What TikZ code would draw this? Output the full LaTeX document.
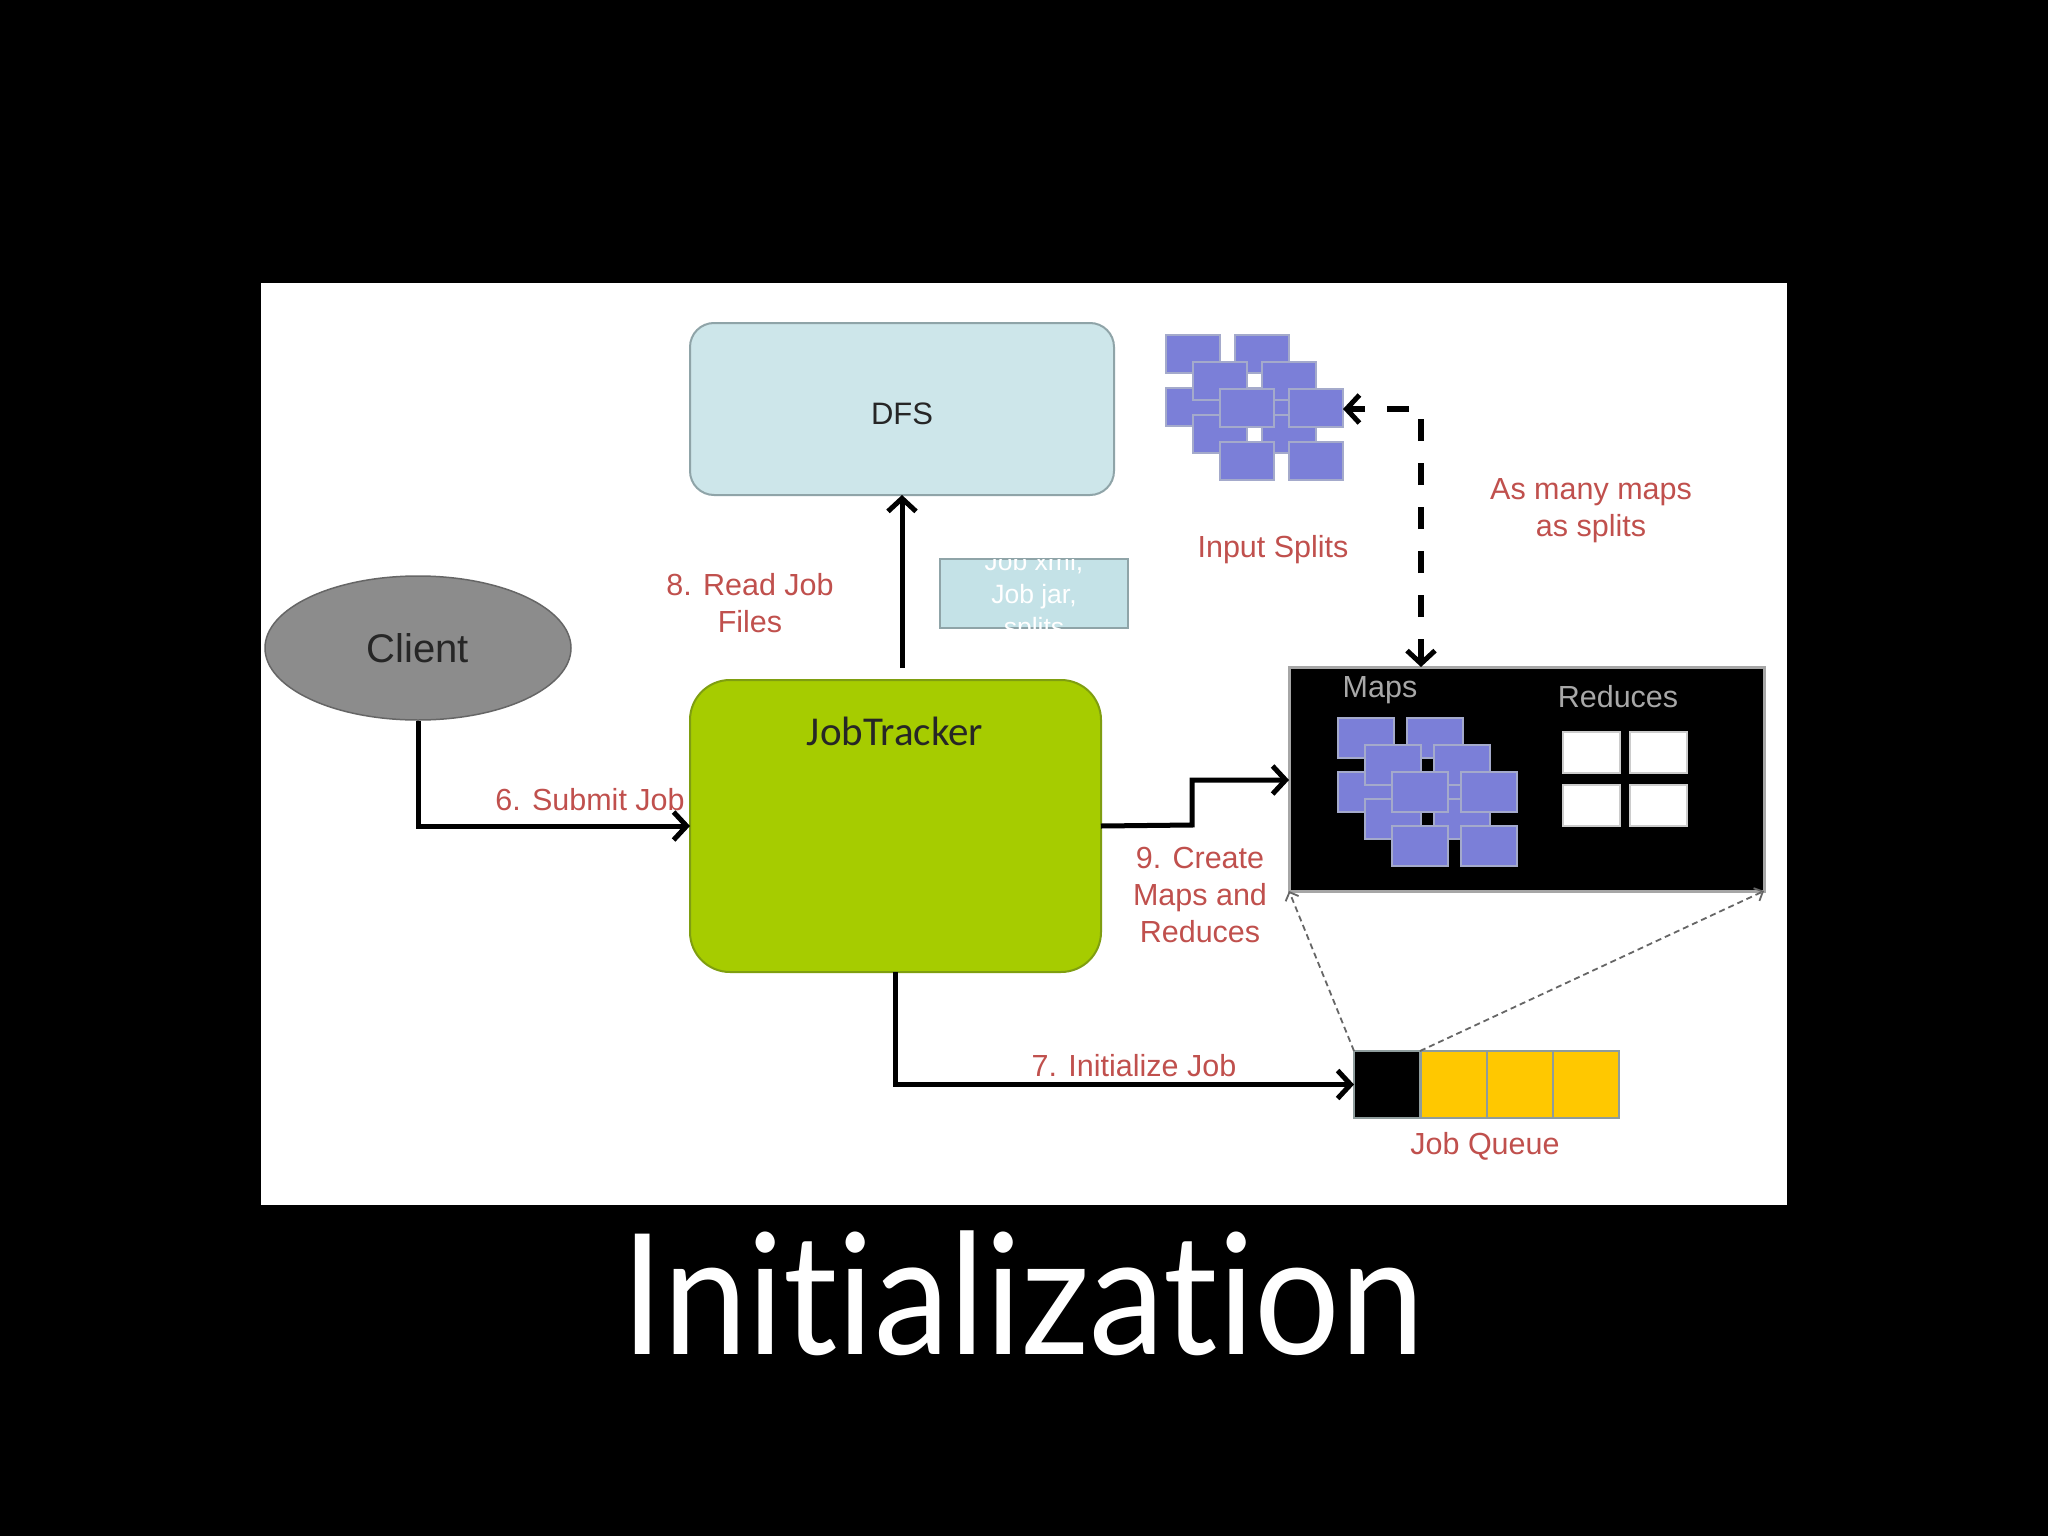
\documentclass[tikz,border=0pt]{standalone}
\usepackage{fontspec}
\setmainfont{Liberation Sans}
\newfontfamily\jtfont{Carlito}
\newfontfamily\titlefont[Ligatures={NoCommon,NoRequired,NoContextual}]{Lato}
\usetikzlibrary{arrows.meta,shapes.geometric,calc}
\definecolor{lbl}{HTML}{C0504D}
\definecolor{dfsfill}{HTML}{CDE6EA}
\definecolor{jobfill}{HTML}{C4E2E7}
\definecolor{dfsline}{HTML}{8FA4A8}
\definecolor{jtfill}{HTML}{A6CC00}
\definecolor{jtline}{HTML}{7F9E10}
\definecolor{splitfill}{HTML}{7B7FD8}
\definecolor{splitline}{HTML}{A4AACB}
\definecolor{qyellow}{HTML}{FFC800}
\definecolor{qline}{HTML}{8E9C9C}
\definecolor{clientfill}{HTML}{8C8C8C}
\definecolor{mapslbl}{HTML}{A8A8A8}
\tikzset{
  lab/.style={text=lbl, align=center, font=\fontsize{30.5}{37}\selectfont},
  boxshape/.style={rectangle, inner sep=0pt, outer sep=0pt},
  flow/.style={line width=5pt, -{Straight Barb[length=13pt,width=28pt,line width=5pt]}},
  dotarrow/.style={line width=1.8pt, draw=black!60, dash pattern=on 6pt off 4pt, -{Straight Barb[length=7pt,width=14pt,line width=1.8pt]}},
  splitbox/.style={boxshape, fill=splitfill, draw=splitline, line width=2pt, minimum width=54pt, minimum height=38pt},
  mapbox/.style={boxshape, fill=splitfill, draw=splitline, line width=2pt, minimum width=56pt, minimum height=40pt},
  redbox/.style={boxshape, fill=white, draw=black!20, line width=2pt, minimum width=57pt, minimum height=41pt},
  qcell/.style={boxshape, fill=qyellow, draw=qline, line width=2pt, minimum width=66pt, minimum height=67pt},
}
\begin{document}
\begin{tikzpicture}[x=1pt,y=-1pt]
\useasboundingbox (0,0) rectangle (2048,1536);
\fill[black] (0,0) rectangle (2048,1536);
\fill[white] (261,283) rectangle (1787,1205);

% DFS
\node[boxshape, fill=dfsfill, draw=dfsline, line width=2pt, rounded corners=24pt,
      minimum width=424pt, minimum height=172pt] (dfs) at (902,409) {};
\node[font=\fontsize{31}{31}\selectfont, text=black!85] (dfslbl) at (902,414) {DFS};

% Job files box
\node[boxshape, draw=dfsline, line width=2pt, fill=jobfill,
      minimum width=188pt, minimum height=69pt] (jobfiles) at (1034,593.5) {};
\begin{scope}
\clip (jobfiles.south west) rectangle (jobfiles.north east);
\node[text=white, align=center, font=\fontsize{26.5}{33}\selectfont] (jobfilestxt) at (1034,597) {Job xml,\\Job jar,\\splits};
\end{scope}

% Client
\node[ellipse, fill=clientfill, draw=black!60, line width=1.5pt, minimum width=306pt, minimum height=144pt,
      inner sep=0pt, font=\fontsize{40}{40}\selectfont, text=black!85] (client) at (418,648) {Client};

% JobTracker
\node[boxshape, fill=jtfill, draw=jtline, line width=2pt, rounded corners=40pt,
      minimum width=411pt, minimum height=292pt] (jt) at (895.5,826) {};
\node[font=\jtfont\fontsize{41}{41}\selectfont, text=black!85] (jtlbl) at (895,731) {JobTracker};

% Maps / Reduces container
\node[boxshape, fill=black, draw=black!35, line width=3pt, minimum width=475pt, minimum height=224pt] (maps) at (1526.5,779) {};
\node[text=mapslbl, font=\fontsize{30.5}{30.5}\selectfont] (mapslabel) at (1380,690) {Maps};
\node[text=mapslbl, font=\fontsize{30.5}{30.5}\selectfont] (redlabel) at (1618,697) {Reduces};

% Input splits cluster
\foreach \k in {0,1,2}{
  \foreach \i in {0,1}{
    \foreach \j in {0,1}{
      \node[splitbox] (sp-\k-\i-\j) at ({1166+27+27*\k+69*\i},{335+19+27*\k+53*\j}) {};
    }
  }
}
% Maps cluster
\foreach \k in {0,1,2}{
  \foreach \i in {0,1}{
    \foreach \j in {0,1}{
      \node[mapbox] (mp-\k-\i-\j) at ({1338+28+27*\k+69*\i},{718+20+27*\k+54*\j}) {};
    }
  }
}
% Reduces
\node[redbox] (r11) at (1591.5,752.5) {};
\node[redbox] (r12) at (1658.5,752.5) {};
\node[redbox] (r21) at (1591.5,805.5) {};
\node[redbox] (r22) at (1658.5,805.5) {};

% Job queue
\node[qcell, fill=black] (q1) at (1387,1084.5) {};
\node[qcell] (q2) at (1453.5,1084.5) {};
\node[qcell] (q3) at (1519.5,1084.5) {};
\node[qcell] (q4) at (1586,1084.5) {};

% Labels
\node[lab] (l6) at (590,800) {6. Submit Job};
\node[lab] (l8) at (750,603) {8. Read Job\\Files};
\node[lab] (l9) at (1200,895) {9. Create\\Maps and\\Reduces};
\node[lab] (l7) at (1134,1066) {7. Initialize Job};
\node[lab] (lin) at (1273,550) {Input Splits};
\node[lab] (las) at (1591,511) {As many maps\\as splits};
\node[lab] (ljq) at (1485,1146) {Job Queue};

% Connectors
\draw[flow] (client.south) |- (jt.west);
\draw[flow] (jt.north -| dfs.south) ++(0,-12) -- (dfs.south);
\draw[flow] (jt.east) -- (1192,825) -- (1192,780) -- (maps.west |- 0,780);
\draw[flow] (jt.south) |- (q1.west);
\coordinate (dcorner) at (1421,409);
\draw[line width=6pt, dash pattern=on 22pt off 22pt,
      {Straight Barb[length=13pt,width=28pt,line width=5pt]}-{Straight Barb[length=13pt,width=28pt,line width=5pt]}]
      (maps.north -| dcorner) -- (dcorner) -- (sp-2-1-0.east |- dcorner);
\draw[dotarrow] (q1.north west) -- (maps.south west);
\draw[dotarrow] (q1.north east) -- (maps.south east);

% Title
\node[text=white, anchor=base, font=\titlefont\fontsize{168}{168}\selectfont] (title) at (1023,1354) {\scalebox{0.9}[1]{Init\kern0pt ializat\kern0pt ion}};
\end{tikzpicture}
\end{document}
